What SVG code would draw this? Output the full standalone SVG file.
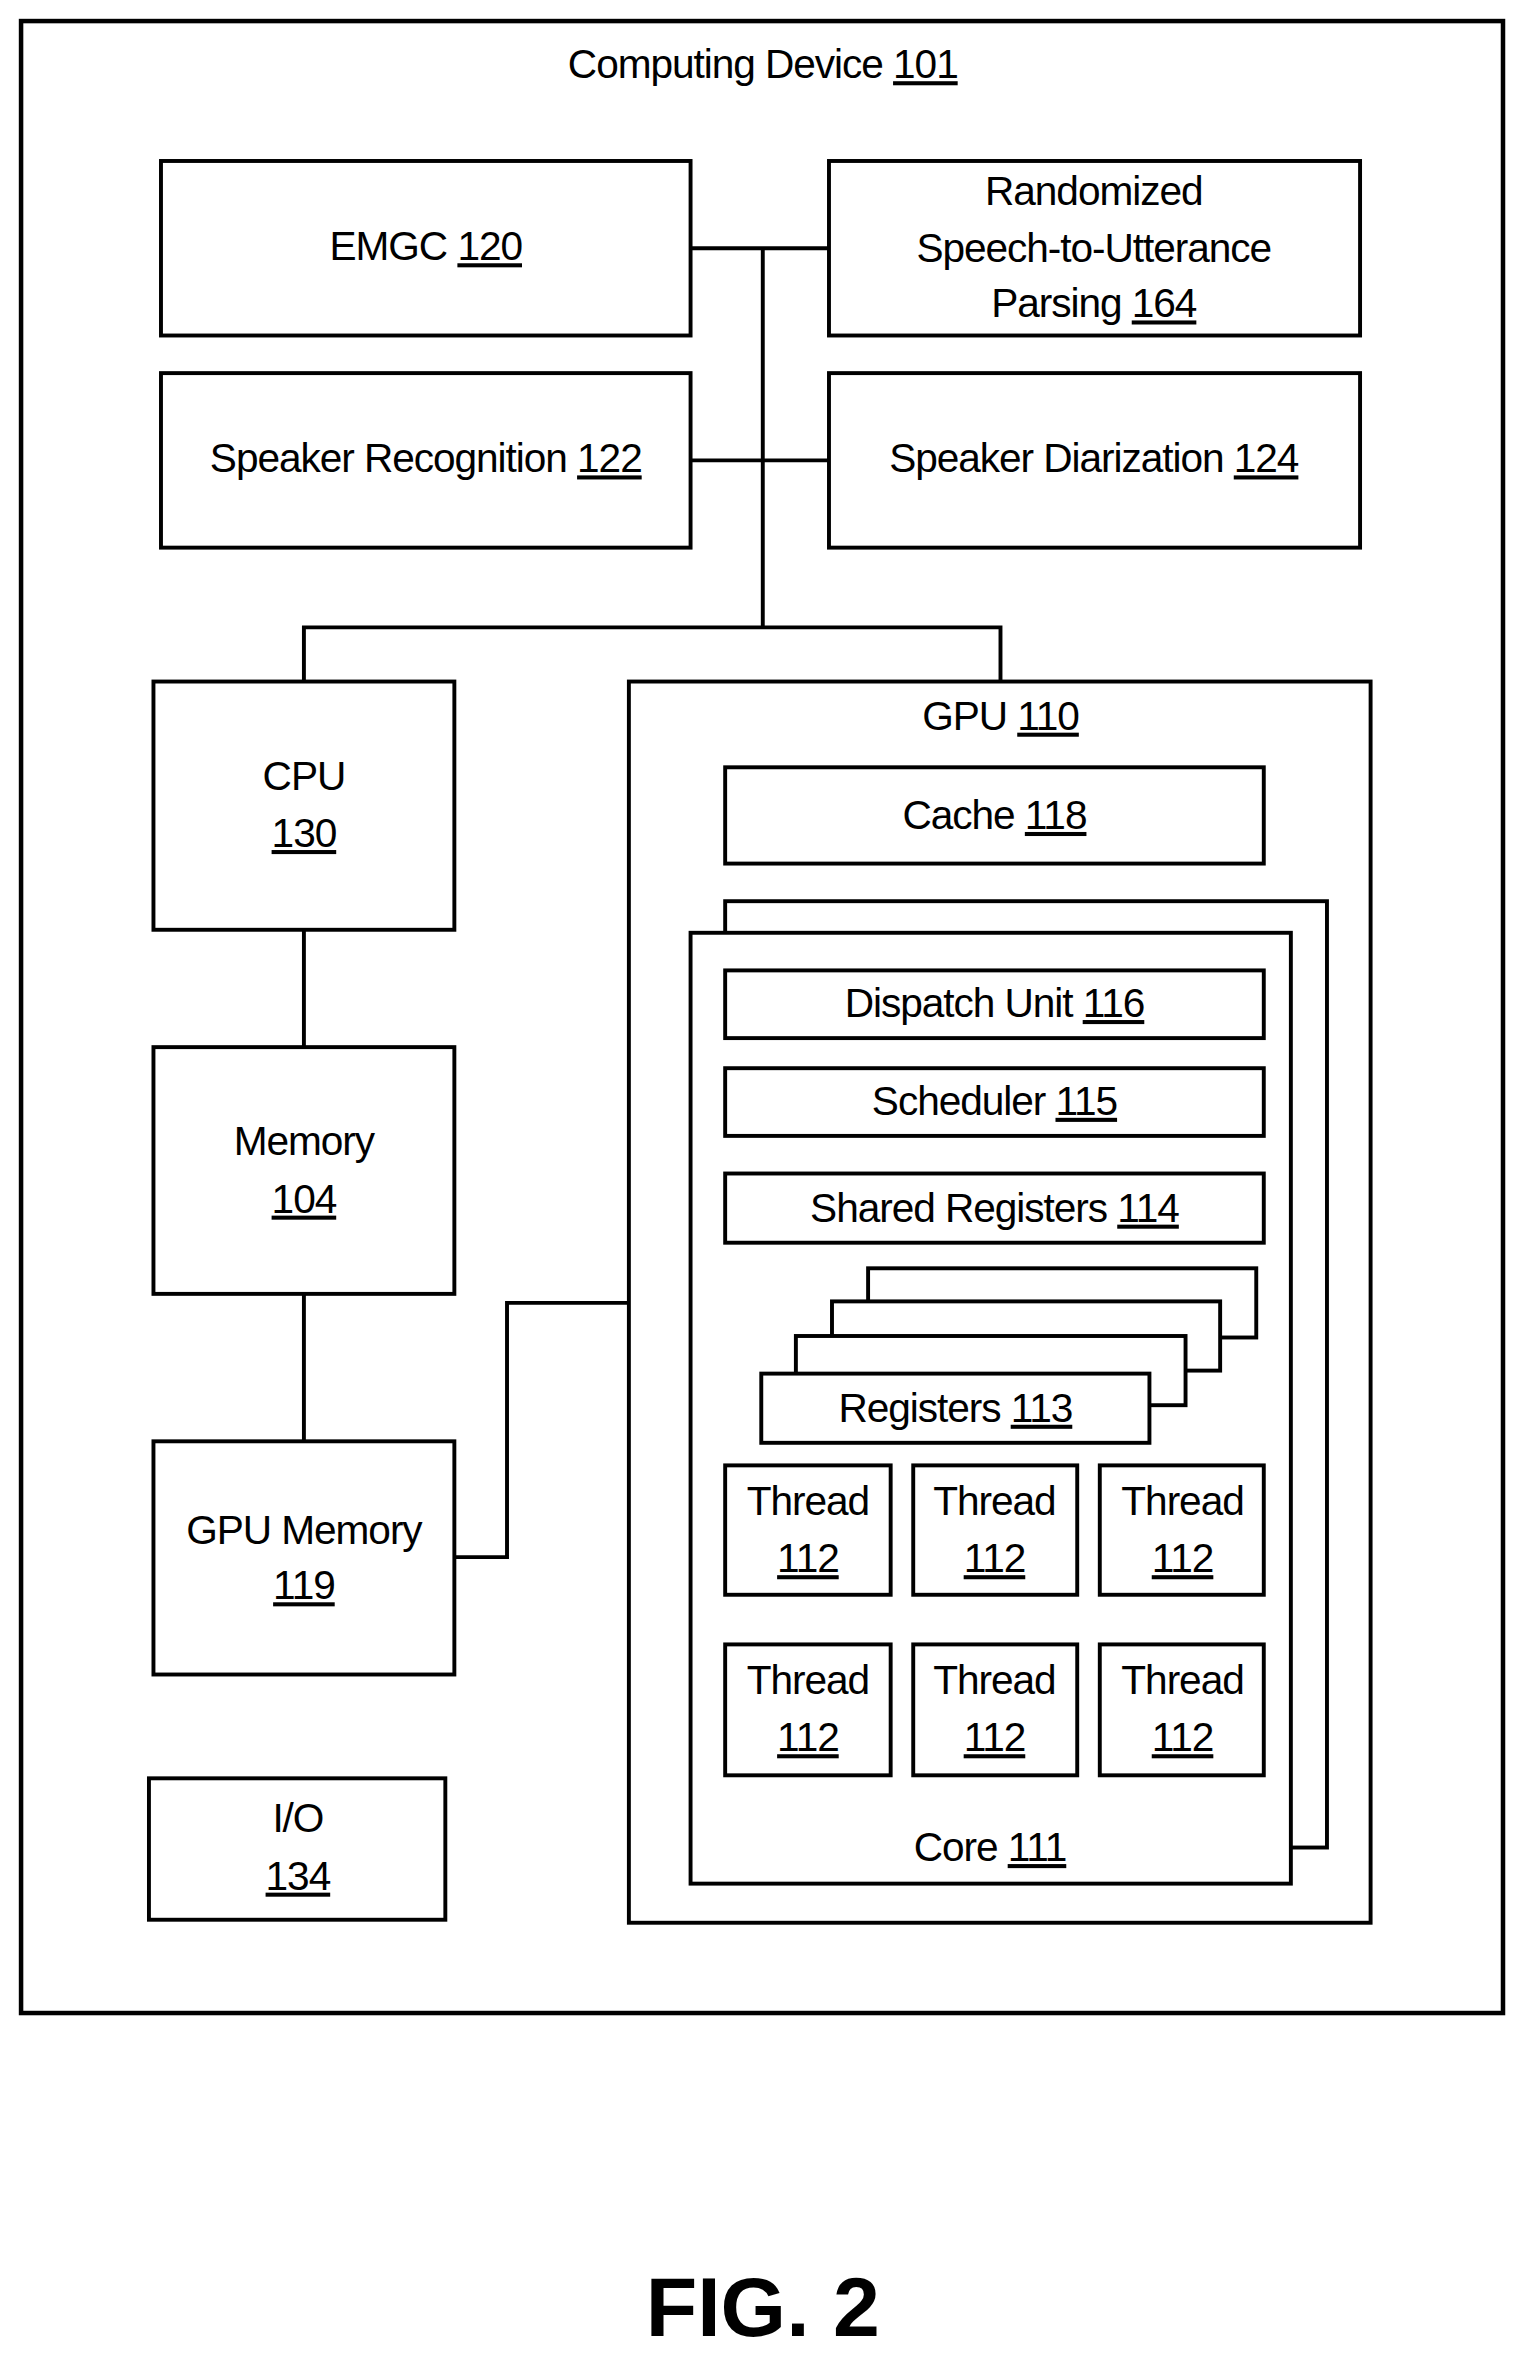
<svg xmlns="http://www.w3.org/2000/svg" width="1527" height="2362" viewBox="0 0 1527 2362">
<style>
rect{fill:#fff;stroke:#000;stroke-width:2.6}
line,polyline{fill:none;stroke:#000;stroke-width:2.6}
text{font-family:"Liberation Sans Narrow","Liberation Sans",Arial,sans-serif;font-size:27px;letter-spacing:-0.7px;text-anchor:middle;fill:#000}
.u{text-decoration:underline}
</style>
<rect x="0" y="0" width="1527" height="2362" style="fill:#fff;stroke:none"/>
<g transform="scale(1.5045)">
<g id="computing-device"><rect x="14" y="14" width="985" height="1324" style="stroke-width:3"/><text x="507" y="52">Computing Device <tspan class="u">101</tspan></text></g>
<g id="connectors">
<line x1="507" y1="165" x2="507" y2="417"/>
<line x1="459" y1="165" x2="551" y2="165"/>
<line x1="459" y1="306" x2="551" y2="306"/>
<polyline points="202,453 202,417 665,417 665,453"/>
<line x1="202" y1="618" x2="202" y2="696"/>
<line x1="202" y1="860" x2="202" y2="958"/>
<polyline points="302,1035 337,1035 337,866 418,866"/>
</g>
<g id="emgc"><rect x="107" y="107" width="352" height="116"/><text x="283" y="173">EMGC <tspan class="u">120</tspan></text></g>
<g id="parsing"><rect x="551" y="107" width="353" height="116"/><text x="727" y="136">Randomized</text><text x="727" y="174">Speech-to-Utterance</text><text x="727" y="211">Parsing <tspan class="u">164</tspan></text></g>
<g id="speaker-recognition"><rect x="107" y="248" width="352" height="116"/><text x="283" y="314">Speaker Recognition <tspan class="u">122</tspan></text></g>
<g id="speaker-diarization"><rect x="551" y="248" width="353" height="116"/><text x="727" y="314">Speaker Diarization <tspan class="u">124</tspan></text></g>
<g id="cpu"><rect x="102" y="453" width="200" height="165"/><text x="202" y="525">CPU</text><text x="202" y="563" class="u">130</text></g>
<g id="memory"><rect x="102" y="696" width="200" height="164"/><text x="202" y="768">Memory</text><text x="202" y="806" class="u">104</text></g>
<g id="gpu-memory"><rect x="102" y="958" width="200" height="155"/><text x="202" y="1026">GPU Memory</text><text x="202" y="1063" class="u">119</text></g>
<g id="io"><rect x="99" y="1182" width="197" height="94"/><text x="198" y="1218">I/O</text><text x="198" y="1256" class="u">134</text></g>
<g id="gpu"><rect x="418" y="453" width="493" height="825"/><text x="665" y="485">GPU  <tspan class="u">110</tspan></text></g>
<g id="cache"><rect x="482" y="510" width="358" height="64"/><text x="661" y="551">Cache <tspan class="u">118</tspan></text></g>
<g id="core"><rect x="482" y="599" width="400" height="629"/><rect x="459" y="620" width="399" height="632"/><text x="658" y="1237">Core <tspan class="u">111</tspan></text></g>
<g id="dispatch"><rect x="482" y="645" width="358" height="45"/><text x="661" y="676">Dispatch Unit <tspan class="u">116</tspan></text></g>
<g id="scheduler"><rect x="482" y="710" width="358" height="45"/><text x="661" y="741">Scheduler <tspan class="u">115</tspan></text></g>
<g id="shared-registers"><rect x="482" y="780" width="358" height="46"/><text x="661" y="812">Shared Registers <tspan class="u">114</tspan></text></g>
<g id="registers"><rect x="577" y="843" width="258" height="46"/><rect x="553" y="865" width="258" height="46"/><rect x="529" y="888" width="259" height="46"/><rect x="506" y="913" width="258" height="46"/><text x="635" y="945">Registers <tspan class="u">113</tspan></text></g>
<g id="thread-1"><rect x="482" y="974" width="110" height="86"/><text x="537" y="1007">Thread</text><text x="537" y="1045" class="u">112</text></g>
<g id="thread-2"><rect x="607" y="974" width="109" height="86"/><text x="661" y="1007">Thread</text><text x="661" y="1045" class="u">112</text></g>
<g id="thread-3"><rect x="731" y="974" width="109" height="86"/><text x="786" y="1007">Thread</text><text x="786" y="1045" class="u">112</text></g>
<g id="thread-4"><rect x="482" y="1093" width="110" height="87"/><text x="537" y="1126">Thread</text><text x="537" y="1164" class="u">112</text></g>
<g id="thread-5"><rect x="607" y="1093" width="109" height="87"/><text x="661" y="1126">Thread</text><text x="661" y="1164" class="u">112</text></g>
<g id="thread-6"><rect x="731" y="1093" width="109" height="87"/><text x="786" y="1126">Thread</text><text x="786" y="1164" class="u">112</text></g>
<text x="507" y="1553" style="font-family:'Liberation Sans',Arial,sans-serif;font-weight:bold;font-size:56px;letter-spacing:0">FIG. 2</text>
</g>
</svg>
